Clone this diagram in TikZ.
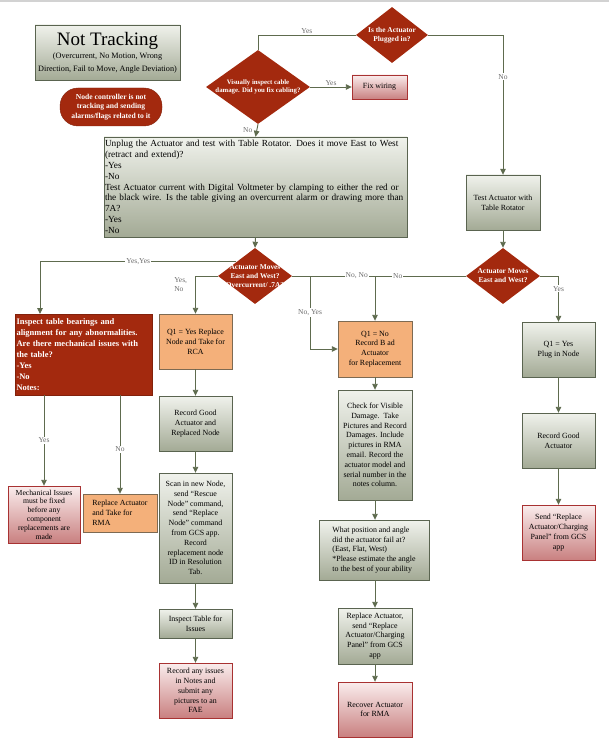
\documentclass[tikz,border=0pt]{standalone}
\usepackage{fontspec}
\setmainfont{Liberation Serif}
\usetikzlibrary{arrows.meta, positioning, shapes.geometric}
\definecolor{redfill}{HTML}{A3290E}
\definecolor{graytop}{HTML}{F0F2EC}
\definecolor{graybot}{HTML}{A3AA95}
\definecolor{boxedge}{HTML}{5A6450}
\definecolor{pinktop}{HTML}{FAEDED}
\definecolor{pinkbot}{HTML}{C98080}
\definecolor{pinkedge}{HTML}{A83232}
\definecolor{orangefill}{HTML}{F4B07A}
\definecolor{orangeedge}{HTML}{7D6A52}
\definecolor{linecol}{HTML}{5E6B4E}
\definecolor{lblcol}{HTML}{6B6B6B}

\newcommand\fsz[2]{\fontsize{#1}{#2}\selectfont}

\tikzset{
  base/.style={draw, align=center, inner sep=1pt, minimum width=73pt,
    minimum height=55pt, font=\fsz{7.9}{9.8}},
  graybox/.style={base, draw=boxedge, top color=graytop, bottom color=graybot},
  pinkbox/.style={base, draw=pinkedge, top color=pinktop, bottom color=pinkbot},
  orangebox/.style={base, draw=orangeedge, fill=orangefill},
  redbox/.style={base, draw=redfill!80!black, fill=redfill, text=white,
    font=\fsz{8.5}{11}\bfseries, align=left},
  decision/.style={diamond, fill=redfill, inner sep=0pt,
    label={[text=white, font=\fsz{7.4}{9}\bfseries, align=center]center:{#1}}},
  conn/.style={draw=linecol, line width=0.9pt},
  arrow/.style={conn, -{Triangle[length=6pt,width=5.5pt]}},
  lbl/.style={font=\fsz{7.5}{9}, text=lblcol, inner sep=1pt},
}

\begin{document}
\begin{tikzpicture}[x=1pt, y=-1pt]
  \useasboundingbox (0,0) rectangle (609,754);
  \draw[gray!35, line width=1.5pt] (0,0.8) -- (609,0.8);

  % Start
  \node[graybox, minimum width=145pt, minimum height=55pt, font=\fsz{8.2}{13}]
    (title) at (107.5,52.5)
    {{\fsz{19}{21}Not Tracking}\\(Overcurrent, No Motion, Wrong\\Direction, Fail to Move, Angle Deviation)};
  \node[redbox, rounded corners=18pt, minimum width=102pt, minimum height=38pt,
    align=center, font=\fsz{7.6}{9.4}\bfseries] (alarm) at (111,107)
    {Node controller is not\\tracking and sending\\alarms/flags related to it};

  % Cable check
  \node[decision={Is the Actuator\\Plugged in?}, minimum width=72pt,
    minimum height=56pt] (plugged) at (392,35) {};
  \node[diamond, fill=redfill, inner sep=0pt, minimum width=104pt, minimum height=74pt,
    label={[text=white, font=\fsz{6.8}{8.6}\bfseries, align=center]center:{Visually inspect cable\\damage. Did you fix cabling?}}]
    (cable) at (258,87) {};
  \node[pinkbox, minimum width=55pt, minimum height=24pt] (fixwire) at (379.5,87) {Fix wiring};

  % Unplugged test
  \node[graybox, align=left, text width=301pt, minimum height=100pt,
    font=\fsz{9.3}{10.8}] (unplug) at (255.5,187)
    {Unplug the Actuator and test with Table Rotator. Does it move East to West\\
     (retract and extend)?\\-Yes\\-No\\
     Test Actuator current with Digital Voltmeter by clamping to either the red or\\
     the black wire. Is the table giving an overcurrent alarm or drawing more than\\
     7A?\\-Yes\\-No};
  \node[decision={Actuator Moves\\East and West?\\Overcurrent/ .7A?},
    minimum width=74pt, minimum height=56pt] (moves) at (255,276) {};

  % Plugged-in test
  \node[graybox, minimum width=74pt] (rotator) at (503,202.5) {Test Actuator with\\Table Rotator};
  \node[decision={Actuator Moves\\East and West?}, minimum width=74pt,
    minimum height=56pt] (moves2) at (503,276) {};

  % Yes, Yes branch
  \node[redbox, text width=135pt, minimum height=81pt] (bearings) at (84,354.5)
    {Inspect table bearings and\\alignment for any abnormalities.\\
     Are there mechanical issues with\\the table?\\-Yes\\-No\\Notes:};
  \node[pinkbox, minimum width=72pt, minimum height=57pt, font=\fsz{7.7}{8.8}]
    (mech) at (44,514.5)
    {Mechanical Issues\\must be fixed\\before any\\component\\replacements are\\made};
  \node[orangebox, align=left, minimum width=74pt, minimum height=38pt]
    (replact) at (120,513) {Replace Actuator\\and Take for\\RMA};

  % Yes, No branch
  \node[orangebox] (q1yes) at (195.5,341.5) {Q1 = Yes Replace\\Node and Take for\\RCA};
  \node[graybox] (goodnode) at (195.5,423.5) {Record Good\\Actuator and\\Replaced Node};
  \node[graybox, minimum height=110pt] (scan) at (195.5,528)
    {Scan in new Node,\\send ``Rescue\\Node'' command,\\send ``Replace\\Node'' command\\
     from GCS app.\\Record\\replacement node\\ID in Resolution\\Tab.};
  \node[graybox, minimum height=29pt] (table) at (195.5,623.5) {Inspect Table for\\Issues};
  \node[pinkbox] (issues) at (195.5,690.5)
    {Record any issues\\in Notes and\\submit any\\pictures to an\\FAE};

  % No branch
  \node[orangebox, minimum width=74pt, minimum height=56pt] (q1no) at (375,349)
    {Q1 = No\\Record B ad\\Actuator\\for Replacement};
  \node[graybox, minimum width=74pt, minimum height=110pt] (damage) at (375,445)
    {Check for Visible\\Damage.\ \ Take\\Pictures and Record\\Damages. Include\\
     pictures in RMA\\email. Record the\\actuator model and\\serial number in the\\notes column.};
  \node[graybox, align=left, minimum width=110pt, minimum height=60pt] (angle) at (374,550)
    {What position and angle\\did the actuator fail at?\\(East, Flat, West)\\
     *Please estimate the angle\\to the best of your ability};
  \node[graybox, minimum width=74pt, minimum height=56pt] (swap) at (375,636)
    {Replace Actuator,\\send ``Replace\\Actuator/Charging\\Panel'' from GCS\\app};
  \node[pinkbox, minimum width=74pt] (recover) at (375,709.5) {Recover Actuator\\for RMA};

  % Plugged yes branch
  \node[graybox] (plugnode) at (558.5,349.5) {Q1 = Yes\\Plug in Node};
  \node[graybox] (goodact) at (558.5,440.5) {Record Good\\Actuator};
  \node[pinkbox] (sendcmd) at (558.5,532.5)
    {Send ``Replace\\Actuator/Charging\\Panel'' from GCS\\app};

  \coordinate (join) at (375,276);
  \coordinate (split) at (310,276);
  \coordinate (yesyes) at (40,314);

  % Connectors
  \draw[conn] (plugged.west) -| node[pos=0.25, above, lbl] {Yes} (cable.north);
  \draw[arrow] (plugged.east) -| node[pos=0.65, lbl, fill=white] {No} (rotator.north);
  \draw[arrow] (cable.east) -- node[above, lbl] {Yes} (fixwire.west);
  \draw[arrow] (cable.south) -- node[left=3pt, lbl] {No} (unplug.north);
  \draw[arrow] (unplug.south) -- (moves.north);
  \draw[arrow] (moves.north west) -| node[pos=0.25, lbl, fill=white] {Yes,Yes} (yesyes);
  \draw[arrow] (moves.west) -| node[pos=0.62, left=7pt, lbl, align=left] {Yes,\\No} (q1yes.north);
  \draw[conn] (moves.east) -- node[pos=0.78, lbl, fill=white] {No, No} (join);
  \draw[arrow] (split) |- node[pos=0.25, lbl, fill=white] {No, Yes} (q1no.west);
  \draw[arrow] (moves2.west) -- node[pos=0.75, lbl, fill=white] {No} (join) -- (q1no.north);
  \draw[arrow] (rotator.south) -- (moves2.north);
  \draw[arrow] (moves2.east) -| node[pos=0.64, lbl, fill=white] {Yes} (plugnode.north);

  \draw[arrow] (bearings.south -| mech.north) -- node[lbl, fill=white] {Yes} (mech.north);
  \draw[arrow] (bearings.south -| replact.north) -- node[pos=0.55, lbl, fill=white] {No} (replact.north);

  \draw[arrow] (q1yes) -- (goodnode);
  \draw[arrow] (goodnode) -- (scan);
  \draw[arrow] (scan) -- (table);
  \draw[arrow] (table) -- (issues);

  \draw[arrow] (q1no) -- (damage);
  \draw[arrow] (damage) -- (angle.north -| damage.south);
  \draw[arrow] (angle.south -| swap.north) -- (swap);
  \draw[arrow] (swap) -- (recover);

  \draw[arrow] (plugnode) -- (goodact);
  \draw[arrow] (goodact) -- (sendcmd);
\end{tikzpicture}
\end{document}
